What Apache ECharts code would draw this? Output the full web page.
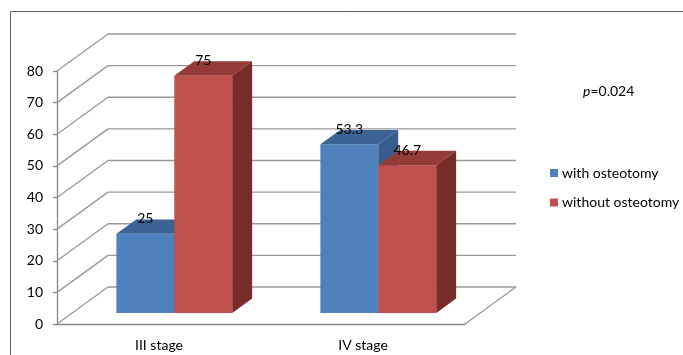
<!DOCTYPE html>
<html>
<head>
<meta charset="utf-8">
<script src="https://cdn.jsdelivr.net/npm/echarts@6/dist/echarts.min.js"></script>
<style>
  html, body { margin: 0; padding: 0; background: #fff; }
  #chart { width: 683px; height: 355px; }
</style>
</head>
<body>
<div id="chart"></div>
<script>
// Chart data
const categories = ['III stage', 'IV stage'];
const withOsteotomy = [25, 53.3];
const withoutOsteotomy = [75, 46.7];
const yTickValues = [0, 10, 20, 30, 40, 50, 60, 70, 80];
const seriesNames = ['with osteotomy', 'without osteotomy'];
const pValueText = '{i|p}=0.024';

// Oblique 3D look: offset of the back wall relative to the front plane
const DX = 51, DY = -37;
const BAR_FRONT = 0.30, BAR_BACK = 0.69;   // bar depth span, fraction of wall depth
const BAR_WIDTH_RATIO = 0.284;              // width of one bar as share of a category band
const FONT = 'Lato, "Liberation Sans", sans-serif';
const GRID_COLOR = '#989898';

const palettes = [
  { front: '#4F81BD', top: '#3B6494', side: '#365E8C' },
  { front: '#C0504D', top: '#943A37', side: '#772C2A' }
];

function wallRenderer(params, api) {
  const cs = params.coordSys;
  const left = cs.x, right = cs.x + cs.width;
  const v = api.value(1);
  const y = api.coord([0, v])[1];
  const lineStyle = { stroke: GRID_COLOR, lineWidth: 1.3, fill: null };
  const children = [
    { type: 'line', shape: { x1: left, y1: y, x2: left + DX, y2: y + DY }, style: lineStyle },
    { type: 'line', shape: { x1: left + DX, y1: y + DY, x2: right + DX, y2: y + DY }, style: lineStyle }
  ];
  if (v === 0) {
    children.push({ type: 'line', shape: { x1: right, y1: y, x2: right + DX, y2: y + DY }, style: lineStyle });
  }
  return { type: 'group', children: children };
}

function barRenderer(seriesIdx) {
  const pal = palettes[seriesIdx];
  return function (params, api) {
    const cat = api.value(0), v = api.value(1);
    const base = api.coord([cat, 0]);
    const top = api.coord([cat, v]);
    const w = api.size([1, 0])[0] * BAR_WIDTH_RATIO;
    const fx = BAR_FRONT * DX, fy = BAR_FRONT * DY;
    const bx = (BAR_BACK - BAR_FRONT) * DX, by = (BAR_BACK - BAR_FRONT) * DY;
    const x0 = base[0] + fx + (seriesIdx === 0 ? -w : 0);
    const x1 = x0 + w;
    const yb = base[1] + fy, yt = top[1] + fy;
    return {
      type: 'group',
      children: [
        { type: 'rect', shape: { x: x0, y: yt, width: w, height: yb - yt }, style: { fill: pal.front } },
        { type: 'polygon', shape: { points: [[x0, yt], [x1, yt], [x1 + bx, yt + by], [x0 + bx, yt + by]] }, style: { fill: pal.top } },
        { type: 'polygon', shape: { points: [[x1, yt], [x1 + bx, yt + by], [x1 + bx, yb + by], [x1, yb]] }, style: { fill: pal.side } },
        {
          type: 'text', z2: 10,
          style: {
            x: (x0 + x1) / 2, y: yt - 15, text: String(v),
            align: 'center', verticalAlign: 'middle',
            fontSize: 14, fontFamily: FONT, fill: '#000'
          }
        }
      ]
    };
  };
}

const chart = echarts.init(document.getElementById('chart'), null, { renderer: 'canvas' });
chart.setOption({
  animation: false,
  backgroundColor: '#fff',
  textStyle: { fontFamily: FONT },
  title: {
    text: pValueText,
    left: 583, top: 84, padding: 0,
    textStyle: {
      fontSize: 14, fontWeight: 'normal', color: '#000', fontFamily: FONT,
      rich: { i: { fontStyle: 'italic', fontSize: 14, color: '#000', fontFamily: FONT } }
    }
  },
  legend: {
    data: seriesNames,
    orient: 'vertical',
    left: 550, top: 166, padding: 0,
    itemWidth: 8, itemHeight: 8, itemGap: 15.5,
    icon: 'rect',
    textStyle: { fontSize: 14, lineHeight: 14, color: '#000', fontFamily: FONT, padding: [0, 0, 0, -1] }
  },
  graphic: [{
    type: 'rect', silent: true,
    shape: { x: 10.5, y: 11.5, width: 800, height: 500 },
    style: { fill: null, stroke: '#5E5E5E', lineWidth: 1 }
  }],
  grid: { left: 57, right: 218, top: 71, bottom: 31, containLabel: false },
  xAxis: {
    type: 'category',
    data: categories,
    axisLine: { lineStyle: { color: '#868686', width: 1.3 } },
    axisTick: { length: 6, lineStyle: { color: '#868686', width: 1.3 } },
    axisLabel: { margin: 14, fontSize: 14, lineHeight: 14, color: '#000', fontFamily: FONT },
    splitLine: { show: false }
  },
  yAxis: {
    type: 'value',
    min: 0, max: 80, interval: 10,
    axisLine: { show: true, lineStyle: { color: '#868686', width: 1.3 } },
    axisTick: { show: true, length: 4, lineStyle: { color: '#868686', width: 1.3 } },
    axisLabel: { margin: 14, fontSize: 14, color: '#000', fontFamily: FONT },
    splitLine: { show: false }
  },
  series: [
    {
      type: 'custom', name: 'walls', z: 1, silent: true,
      renderItem: wallRenderer,
      data: yTickValues.map(v => [0, v])
    },
    {
      type: 'custom', name: seriesNames[0], z: 3,
      itemStyle: { color: palettes[0].front },
      renderItem: barRenderer(0),
      data: categories.map((c, i) => [i, withOsteotomy[i]])
    },
    {
      type: 'custom', name: seriesNames[1], z: 3,
      itemStyle: { color: palettes[1].front },
      renderItem: barRenderer(1),
      data: categories.map((c, i) => [i, withoutOsteotomy[i]])
    }
  ]
});
</script>
</body>
</html>
